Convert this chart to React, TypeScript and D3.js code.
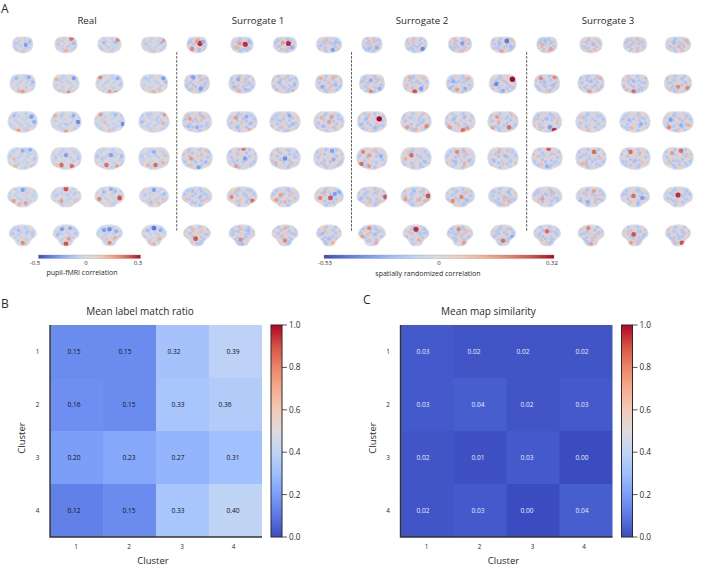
import React from "react";
import * as d3 from "d3";

// ---------- data ----------
const clusters = ["1", "2", "3", "4"];
const labelMatch = [
  [0.15, 0.15, 0.32, 0.39],
  [0.16, 0.15, 0.33, 0.36],
  [0.2, 0.23, 0.27, 0.31],
  [0.12, 0.15, 0.33, 0.4],
];
const mapSimilarity = [
  [0.03, 0.02, 0.02, 0.02],
  [0.03, 0.04, 0.02, 0.03],
  [0.02, 0.01, 0.03, 0.0],
  [0.02, 0.03, 0.0, 0.04],
];
const colorbarTicks = [0, 0.2, 0.4, 0.6, 0.8, 1];
const coolwarmStops = ["#3b4cc0", "#5a78e4", "#7b9ff9", "#9ebeff", "#c0d4f5", "#dddcdc", "#f2cbb7", "#f7ac8e", "#ee8468", "#d65244", "#b40426"];
const groupTitles = ["Real", "Surrogate 1", "Surrogate 2", "Surrogate 3"];

// spots estimated by eye from each small map: [x, y, value], each on a -10..10 range
type Spot = number[];
const realSpots: Spot[][][] = [
  [[[3,0,-6],[7,-4,-4],[-7,-2,-3],[0,8,3],[-3,-8,2]],[[5,-8,7],[7,-2,-4],[-7,-1,-3],[0,7,4],[-6,-6,3]],[[7,-6,6],[-5,-3,-4],[5,-3,-4],[0,8,2]],[[6,-3,-4],[8,-6,5],[-6,-1,-3],[0,3,-2],[0,8,3]]],
  [[[-5,-6,-4],[5,-7,-5],[8,-2,-4],[-8,-2,-2],[0,8,5],[-3,8,4]],[[6,-6,-6],[-7,-5,4],[-2,-7,-2],[2,9,6],[6,8,3],[-5,7,3]],[[-7,-7,6],[6,-6,-5],[8,0,-3],[0,8,5],[5,9,6],[-6,5,2]],[[7,-6,-6],[-6,-6,-3],[9,-2,-4],[0,8,4],[-5,6,2],[4,6,3]]],
  [[[6,-5,-6],[8,0,-5],[-6,-6,-4],[0,-3,-2],[-3,8,5],[3,8,3]],[[8,0,-7],[5,-6,-5],[-3,-6,-3],[-7,-6,4],[0,9,5],[0,2,-3]],[[9,2,-7],[-6,-7,5],[4,-7,-4],[-3,0,3],[0,8,3],[-7,4,-2]],[[7,-7,5],[-4,-7,-3],[6,1,4],[-8,0,-4],[2,-2,-3],[0,8,2]]],
  [[[0,-7,-5],[5,-8,-5],[-6,0,3],[-5,7,4],[6,7,3],[0,3,-2],[8,0,-3]],[[0,-3,-6],[-7,-1,-3],[-3,6,7],[4,7,7],[8,0,-3],[-6,6,3]],[[1,-3,-6],[-2,6,7],[5,7,5],[-8,-2,-3],[8,-2,-4],[-5,0,-3]],[[0,-6,-5],[-8,-2,-3],[1,6,7],[6,4,4],[-4,6,4],[7,-3,3]]],
  [[[0,-7,-6],[-6,4,5],[2,6,5],[-2,7,4],[7,-3,-2],[-8,-1,-2]],[[0,-8,8],[-3,4,5],[-6,-2,-3],[6,-4,-3],[6,3,3],[1,-2,-3]],[[7,1,8],[-7,2,6],[1,-8,-5],[-4,-5,-4],[4,-6,-4],[0,5,2]],[[0,-7,-6],[7,-3,-4],[-6,-2,-3],[-2,5,4],[3,6,3],[6,2,3]]],
  [[[-3,-5,-4],[-7,-2,-3],[7,-2,-3],[0,7,6],[-1,2,2],[3,-3,-3]],[[-3,-6,-6],[3,-7,-5],[0,8,8],[2,3,5],[-6,-1,-4],[7,-2,-3]],[[0,-6,-7],[-4,-5,-6],[5,-4,-5],[0,7,6],[4,2,4],[-2,3,3]],[[0,-7,-8],[5,-5,-5],[-5,-5,-4],[4,3,4],[-4,6,3],[0,8,4]]],
];
const surrogate1Spots: Spot[][][] = [
  [[[3,-2,9],[0,-5,5],[-5,5,6],[6,-4,-5],[2,6,-4],[-6,-3,-3]],[[3,-1,9],[-2,-2,5],[-5,3,4],[6,-4,-4],[0,6,-3],[6,4,-3]],[[3,-2,9],[-2,-3,5],[0,6,3],[6,3,-5],[-6,2,-3],[5,-6,-3]],[[3,6,-6],[-2,-5,3],[-6,0,-3],[5,-3,-4],[-3,4,-3],[7,6,3]]],
  [[[-3,-7,-6],[3,5,-6],[-7,0,-3],[5,-5,3],[-4,5,3],[6,1,-3]],[[-3,-5,-5],[2,-2,3],[-6,3,-4],[6,0,-3],[3,6,-4],[-3,7,4]],[[-4,-2,-4],[0,-6,3],[5,-5,-3],[6,8,5],[-7,7,4],[0,4,-3],[7,1,-4]],[[-6,-6,4],[3,-7,4],[-5,3,-5],[5,1,-4],[0,6,3],[6,6,-3],[0,-1,3]]],
  [[[-5,-3,5],[4,-5,4],[0,5,-5],[-6,4,-4],[6,3,-3],[0,-1,3],[-7,-6,3]],[[-4,-4,5],[3,-5,-5],[6,1,-4],[-3,5,-4],[0,0,3],[5,7,4]],[[3,-6,-5],[-5,-2,-3],[5,2,-4],[-2,5,3],[7,-4,2],[0,8,-3]],[[-5,-4,4],[2,-5,5],[6,-3,-3],[-4,4,-4],[4,5,3],[0,0,5]]],
  [[[-4,0,5],[3,-3,3],[1,8,-6],[-6,-6,3],[6,3,-4],[-4,6,3],[6,-7,3]],[[1,-9,7],[2,0,-6],[-4,7,5],[-6,2,-3],[6,5,-3],[-3,-5,3]],[[0,0,-7],[-4,-6,3],[4,5,3],[6,-3,-3],[-6,4,4],[3,-7,-3]],[[2,-7,-6],[3,1,-5],[-6,-4,3],[-3,5,3],[7,5,3],[-7,5,-2]]],
  [[[-3,-6,-4],[2,0,-4],[-7,2,3],[6,-2,-3],[-1,6,-3],[5,3,3]],[[-7,0,6],[7,4,7],[2,-3,-3],[-2,4,3],[4,-7,-3],[-4,-6,3],[4,2,-3]],[[-3,-2,5],[5,-3,3],[0,5,4],[-6,3,5],[6,4,2],[2,-7,-3]],[[-6,1,6],[1,1,8],[4,-3,-6],[7,-5,-5],[0,6,-3],[-3,-5,4]]],
  [[[-1,3,8],[3,-4,3],[-5,-2,-3],[6,-1,-3],[0,8,-3],[-3,-6,3]],[[-1,4,6],[3,-1,-3],[-6,-4,-3],[5,-5,-4],[0,8,-4],[-1,-6,3]],[[0,-7,4],[0,5,6],[-2,0,3],[5,-2,-3],[-5,-2,-3],[4,7,-3]],[[-5,-2,-4],[0,3,-4],[5,-3,-3],[3,7,4],[-3,-7,3],[6,3,-3]]],
];
const surrogate2Spots: Spot[][][] = [
  [[[-2,-2,3],[2,-5,3],[-3,5,-4],[5,3,-5],[-6,1,-2],[5,-6,-3]],[[-2,0,-3],[6,5,-7],[-3,-5,3],[3,-3,-2],[-6,4,-3],[0,6,-2]],[[2,-2,-6],[-5,-4,3],[5,-5,3],[-5,3,-3],[4,5,3],[0,8,3]],[[3,-5,-8],[-3,-2,-4],[-6,3,-3],[6,2,-4],[-1,8,5],[7,-6,3]]],
  [[[-1,-4,-5],[-1,8,6],[-5,3,-3],[6,5,-5],[5,-5,3],[-7,-3,-3]],[[-5,-7,4],[-1,8,8],[4,5,-6],[6,-6,3],[-7,2,3],[0,-2,-3]],[[-5,-3,-5],[6,-6,4],[-2,6,5],[4,5,-5],[-7,4,-4],[2,-2,-3]],[[7,-5,10],[-5,0,-7],[0,7,-5],[7,4,-3],[-1,-5,3],[-7,-5,2]]],
  [[[5,-3,10],[-4,-3,-4],[-7,2,-4],[2,5,-4],[7,3,-3],[-2,-7,3],[3,2,3]],[[-4,-4,-3],[-6,5,5],[7,4,6],[2,-2,-3],[0,7,4],[4,-7,3],[5,0,-3]],[[2,8,7],[5,6,5],[-7,5,5],[-4,-3,-4],[3,-5,-4],[-1,2,3],[7,0,-2]],[[4,5,7],[-4,-5,5],[2,-3,-3],[-7,6,5],[6,-6,3],[-3,0,4],[7,1,-2]]],
  [[[-7,5,7],[-6,-6,6],[-2,-3,5],[6,-2,-5],[3,4,-3],[-2,7,5],[2,-7,3]],[[-3,-3,7],[-7,0,4],[3,-2,-3],[6,3,-4],[-2,6,3],[3,7,-3],[-5,-6,3]],[[-2,-6,6],[3,-6,4],[6,2,-4],[-3,3,-4],[3,5,4],[-6,5,2]],[[-3,-6,4],[2,-2,-4],[-6,2,-4],[5,3,-3],[3,-7,3],[0,5,3]]],
  [[[9,0,8],[-7,1,-4],[2,-4,-3],[-2,5,3],[5,4,3],[-4,-4,-3],[4,-6,3]],[[8,-1,8],[-7,2,5],[-1,-6,-4],[2,3,4],[-3,-2,-3],[5,-6,3],[6,4,4]],[[-5,4,6],[1,0,6],[5,-5,3],[-2,-6,-3],[5,3,-4],[-7,-2,-2]],[[-6,-5,-3],[4,-5,-4],[-7,2,-2],[1,0,4],[6,2,-3],[0,7,3],[4,4,4]]],
  [[[-2,-7,6],[-7,1,5],[2,-1,-4],[5,-4,-3],[-2,5,-3],[3,7,4],[-3,-1,3]],[[0,-6,9],[-5,-3,3],[3,-3,-3],[6,-2,-3],[2,4,4],[-3,7,-2]],[[-1,-6,6],[-3,3,-3],[4,-4,3],[3,7,5],[-5,-3,-3],[6,2,-3],[1,0,3]],[[0,5,7],[3,-6,3],[7,1,-5],[-5,-1,-3],[4,3,-3],[-4,5,-2]]],
];
const surrogate3Spots: Spot[][][] = [
  [[[-2,-6,-4],[4,5,5],[-5,-1,4],[5,-3,-3],[0,2,-2],[-3,7,3]],[[-4,-4,3],[2,-1,-4],[6,-6,3],[-5,3,-3],[4,5,3],[0,8,3]],[[-3,-6,3],[2,5,3],[6,-3,-3],[-6,2,-3],[0,0,-2],[4,-5,3]],[[-3,-3,-4],[1,2,4],[7,-5,4],[4,-1,-3],[-6,2,-3],[3,7,3]]],
  [[[-5,-6,6],[-2,-2,-4],[6,-7,6],[5,1,-4],[-7,3,-3],[0,7,3],[-1,2,-3]],[[0,-3,-4],[7,-6,4],[-3,-7,-3],[-1,8,5],[5,5,3],[-7,-1,-3],[4,2,-3]],[[-7,7,4],[-1,8,7],[5,6,-3],[-1,-3,-4],[5,-2,-3],[-5,-5,3]],[[7,4,6],[0,3,6],[-5,-1,-3],[3,-6,-3],[-6,6,3],[6,-1,-3]]],
  [[[5,8,9],[2,5,-6],[0,-3,-4],[-6,-3,3],[-5,5,3],[7,-2,3],[4,-6,-3]],[[-5,0,-2],[4,-5,-3],[-2,7,3],[6,4,-2],[0,-2,-2],[-6,-5,3]],[[3,-7,3],[-4,-2,-4],[4,2,-5],[-2,6,3],[6,-3,-3],[-6,5,-3]],[[-5,-2,-6],[-6,5,6],[2,3,-5],[5,-4,3],[0,7,3],[-2,-5,3],[7,3,4]]],
  [[[1,-9,8],[-6,-2,3],[0,7,-5],[5,-4,3],[-4,5,3],[6,3,-3],[-2,-3,-3]],[[2,-6,7],[-5,-3,-3],[-3,5,4],[4,5,-3],[-6,5,4],[6,0,3],[-1,0,-3]],[[-3,-6,7],[3,-5,4],[0,2,-4],[-6,3,-3],[5,4,3],[-3,6,3]],[[2,-7,7],[-4,-5,5],[-1,2,-3],[6,-4,3],[5,4,-3],[-6,2,3],[1,6,3]]],
  [[[-3,2,5],[3,-5,4],[-6,-4,-3],[5,1,-3],[0,-2,-3],[-6,5,3],[7,4,-3]],[[-7,4,-4],[2,-6,5],[-2,5,-5],[6,-2,3],[3,3,3],[-4,-5,3],[7,3,-3]],[[-1,-1,7],[5,1,-6],[-6,-3,-3],[2,6,-4],[-3,5,3],[2,-6,-3]],[[0,-2,9],[5,-3,-3],[-5,-3,-3],[-1,5,3],[6,2,-3],[-5,2,-3]]],
  [[[0,-4,7],[3,3,-3],[-6,0,-3],[6,-3,-3],[0,7,3],[-4,4,3]],[[-2,-7,6],[3,0,3],[-5,-2,-3],[6,-3,-3],[0,8,5],[1,4,-3]],[[-1,-1,8],[-3,7,5],[4,-4,-3],[6,1,-3],[-5,-4,3],[2,5,3]],[[3,7,8],[-3,-4,-3],[4,-3,-3],[-6,2,-3],[0,0,-3],[-3,5,3]]],
];
const allSpots = [realSpots, surrogate1Spots, surrogate2Spots, surrogate3Spots];
// Hand-typed faint grain shared by the maps (mirrored per map). It is a texture
// standing in for the fine mottling, not values read map by map.
const grain: Spot[] = [
  [-8,-7,2],[-5,-8,-2],[-2,-8,1],[2,-8,-2],[5,-7,2],[8,-6,-2],
  [-9,-4,-2],[-6,-5,1],[-3,-5,-2],[0,-5,2],[3,-4,-2],[6,-4,2],[9,-3,-1],
  [-8,-2,2],[-5,-2,-2],[-2,-2,2],[1,-2,-1],[4,-1,2],[7,-1,-2],
  [-9,1,-1],[-6,1,2],[-3,1,-2],[0,0,2],[3,2,-2],[6,2,1],[9,1,2],
  [-8,3,-2],[-4,4,2],[-1,3,-2],[2,4,2],[5,4,-2],[8,4,-1],
  [-6,6,-2],[-3,6,2],[0,6,-1],[3,6,-2],[6,6,2],
  [-4,8,-1],[-1,8,2],[2,8,-2],[5,8,1],
];

// ---------- layout ----------
const columnCenters = [22.7, 66, 109.5, 154, 197, 242, 285, 329, 372, 416, 460, 503, 547, 591, 635, 678];
const rowCenters = [45, 84, 122, 158.5, 197, 235.5];
const sliceWidths = [[20, 22, 23, 25], [25, 26, 27, 27], [29, 30, 30, 30], [30, 30, 30, 30], [30, 30, 29, 29], [28, 27, 27, 26]];
const sliceHeights = [16, 19, 21, 22, 20, 21];
const flat = [[-.8,-.85],[-.4,-1],[0,-1],[.4,-1],[.8,-.85],[1,-.3],[1,.2],[.8,.65],[.4,.92],[0,1],[-.4,.92],[-.8,.65],[-1,.2],[-1,-.3]];
const outlines = [
  flat,
  flat,
  [[-.75,-.85],[-.35,-1],[0,-.97],[.35,-1],[.75,-.85],[1,-.25],[.98,.3],[.75,.7],[.35,.92],[0,1],[-.35,.92],[-.75,.7],[-.98,.3],[-1,-.25]],
  [[-.75,-.88],[-.35,-1],[0,-.97],[.35,-1],[.75,-.88],[1,-.35],[1,.2],[.85,.62],[.5,.85],[.2,1],[-.2,1],[-.5,.85],[-.85,.62],[-1,.2],[-1,-.35]],
  [[-.72,-.82],[-.3,-1],[.3,-1],[.72,-.82],[.98,-.3],[.98,.2],[.78,.5],[.55,.68],[.35,.95],[0,1],[-.35,.95],[-.55,.68],[-.78,.5],[-.98,.2],[-.98,-.3]],
  [[-.62,-.88],[-.25,-1],[.25,-1],[.62,-.88],[.92,-.45],[.95,0],[.72,.28],[.55,.5],[.38,.88],[0,1],[-.38,.88],[-.55,.5],[-.72,.28],[-.95,0],[-.92,-.45]],
];
const titleCenters = [87, 258, 422, 608];
const dividers = [176.7, 351.5, 526.7];
const offsetsB = [[-2.5, -4.5, -8.5, -2.5], [-2.5, -0.5, -4.5, -10.5], [-2.5, -0.5, -4.5, -2.5], [-2.5, -0.5, -4.5, -2.5]];
const offsetsC = [[-4, -6, -10, -4], [-4, -2, -6, -4], [-4, -2, -6, -4], [-4, -2, -6, -4]];

const FONT = "'Open Sans', 'Noto Sans', sans-serif";
const INK = "#2a2a2a";

const coolwarm = d3.scaleLinear<string>().domain(d3.range(11).map((i) => i / 10)).range(coolwarmStops).interpolate(d3.interpolateRgb);
const spotColor = (v: number) => coolwarm(0.5 + v / 20);

function Slice({ id, cx, cy, w, h, row, spots, base, fx, fy, amp }: any) {
  const sx = d3.scaleLinear().domain([-10, 10]).range([cx - w / 2, cx + w / 2]);
  const sy = d3.scaleLinear().domain([-10, 10]).range([cy - h / 2, cy + h / 2]);
  const line = d3.line<number[]>().x((d) => sx(d[0] * 10)).y((d) => sy(d[1] * 10)).curve(d3.curveCatmullRomClosed.alpha(0.5));
  const path = line(outlines[row]) as string;
  return (
    <g>
      <clipPath id={id}><path d={path} /></clipPath>
      <path d={path} fill={base} />
      <g clipPath={`url(#${id})`}>
        <g filter="url(#soft)">
          {grain.map((s, i) => (
            <circle key={i} cx={sx(s[0] * fx)} cy={sy(s[1] * fy)} r={1.7} fill={spotColor(s[2] * amp + (s[2] < 0 ? -1.2 : -0.2))} />
          ))}
          {spots.map((s: number[], i: number) => (
            <circle key={i} cx={sx(s[0])} cy={sy(s[1])} r={1.3 + Math.abs(s[2]) * 0.14} fill={spotColor(s[2])} />
          ))}
        </g>
      </g>
      <path d={path} fill="none" stroke="#e2e1e0" strokeWidth={0.8} />
    </g>
  );
}

function Heatmap({ left, title, titleX, values, offsets, textColor, letter, letterX, letterY, gid }: any) {
  const top = 325, size = 212;
  const x = d3.scaleBand<string>().domain(clusters).range([left, left + size]);
  const y = d3.scaleBand<string>().domain(clusters).range([top, top + size]);
  const cb = d3.scaleLinear().domain([0, 1]).range([top + size, top]);
  const cbX = left + size + 9;
  return (
    <g fontFamily={FONT} fill={INK}>
      <text x={letterX} y={letterY} fontSize={12}>{letter}</text>
      <text x={titleX} y={314.5} fontSize={10} textAnchor="middle">{title}</text>
      {clusters.map((r, i) => clusters.map((c, j) => (
        <rect key={r + c} x={x(c)} y={y(r)} width={x.bandwidth() + (j < 3 ? 0.6 : 0)} height={y.bandwidth() + (i < 3 ? 0.3 : 0)} fill={coolwarm(values[i][j])} />
      )))}
      {clusters.map((r, i) => clusters.map((c, j) => (
        <text key={r + c} x={(x(c) as number) + x.bandwidth() / 2 + offsets[i][j]} y={(y(r) as number) + y.bandwidth() / 2 + 2.2} fontSize={6.6} textAnchor="middle" fill={textColor}>{values[i][j].toFixed(2)}</text>
      )))}
      <path d={`M${left},${top}V${top + size}H${left + size}`} fill="none" stroke="#333" strokeWidth={1.4} />
      {clusters.map((c, i) => (
        <g key={c}>
          <text x={(x(c) as number) + x.bandwidth() / 2 + (i === 3 ? -2 : -0.5)} y={549} fontSize={6.4} textAnchor="middle">{c}</text>
          <text x={left - 12.5} y={(y(c) as number) + y.bandwidth() / 2 + 2} fontSize={6.4} textAnchor="middle">{c}</text>
        </g>
      ))}
      <text x={left + size / 2 - 3} y={564} fontSize={9.5} textAnchor="middle">Cluster</text>
      <text transform={`translate(${left - 25},${top + 113}) rotate(-90)`} fontSize={9.5} textAnchor="middle">Cluster</text>
      <rect x={cbX} y={top} width={11} height={size} fill={`url(#${gid})`} stroke="#2a2a2a" strokeWidth={1} />
      {colorbarTicks.map((t) => (
        <g key={t}>
          <line x1={cbX + 11} x2={cbX + 16} y1={cb(t)} y2={cb(t)} stroke="#2a2a2a" strokeWidth={0.8} />
          <text x={cbX + 18} y={cb(t) + 2.9} fontSize={8.2}>{t.toFixed(1)}</text>
        </g>
      ))}
    </g>
  );
}

export default function App() {
  return (
    <svg width={702} height={567} viewBox="0 0 702 567" style={{ position: "absolute", left: 0, top: 0, display: "block", background: "#fff" }}>
      <defs>
        <filter id="soft" x="-30%" y="-30%" width="160%" height="160%"><feGaussianBlur stdDeviation={0.7} /></filter>
        <linearGradient id="cbV" x1="0" x2="0" y1="1" y2="0">
          {coolwarmStops.map((c, i) => <stop key={i} offset={i / 10} stopColor={c} />)}
        </linearGradient>
        <linearGradient id="cbH" x1="0" x2="1" y1="0" y2="0">
          {coolwarmStops.map((c, i) => <stop key={i} offset={i / 10} stopColor={c} />)}
        </linearGradient>
      </defs>
      <g fontFamily={FONT} fill={INK}>
        <text x={1} y={13} fontSize={12}>A</text>
        {groupTitles.map((t, i) => <text key={t} x={titleCenters[i]} y={24} fontSize={9.7} textAnchor="middle">{t}</text>)}
      </g>
      {allSpots.map((group, g) => group.map((row, r) => row.map((spots, c) => (
        <Slice key={`${g}-${r}-${c}`} id={`s${g}-${r}-${c}`} row={r} cx={columnCenters[g * 4 + c]} cy={rowCenters[r]}
          w={sliceWidths[r][c]} h={sliceHeights[r]} spots={spots} base={coolwarm(0.45)}
          fx={c % 2 === 0 ? 1 : -1} fy={(g + r) % 2 === 0 ? 1 : -1} amp={g === 0 ? 0.6 : 1} />
      ))))}
      {dividers.map((x, i) => <line key={x} x1={x} x2={x} y1={52} y2={232} stroke={i === 0 ? "#808080" : "#555"} strokeWidth={i === 0 ? 1.2 : 0.9} strokeDasharray="2.8 1.2" />)}
      <g fontFamily={FONT} fill={INK} textAnchor="middle">
        <rect x={38.5} y={255} width={102} height={3.5} fill="url(#cbH)" stroke="#888" strokeWidth={0.3} />
        <text x={35} y={265.3} fontSize={6}>-0.5</text>
        <text x={86} y={265.3} fontSize={6}>0</text>
        <text x={138} y={265.3} fontSize={6}>0.3</text>
        <text x={82} y={275} fontSize={7}>pupil-fMRI correlation</text>
        <rect x={324} y={255} width={230} height={3.5} fill="url(#cbH)" stroke="#888" strokeWidth={0.3} />
        <text x={325} y={265.3} fontSize={6}>-0.53</text>
        <text x={439} y={265.3} fontSize={6}>0</text>
        <text x={552} y={265.3} fontSize={6}>0.32</text>
        <text x={428} y={275.5} fontSize={7}>spatially randomized correlation</text>
      </g>
      <Heatmap gid="cbV" left={50} title="Mean label match ratio" titleX={140} values={labelMatch} offsets={offsetsB} textColor="#111" letter="B" letterX={1} letterY={308} />
      <Heatmap gid="cbV" left={400.5} title="Mean map similarity" titleX={488.5} values={mapSimilarity} offsets={offsetsC} textColor="#e8ecf8" letter="C" letterX={363} letterY={304} />
    </svg>
  );
}
